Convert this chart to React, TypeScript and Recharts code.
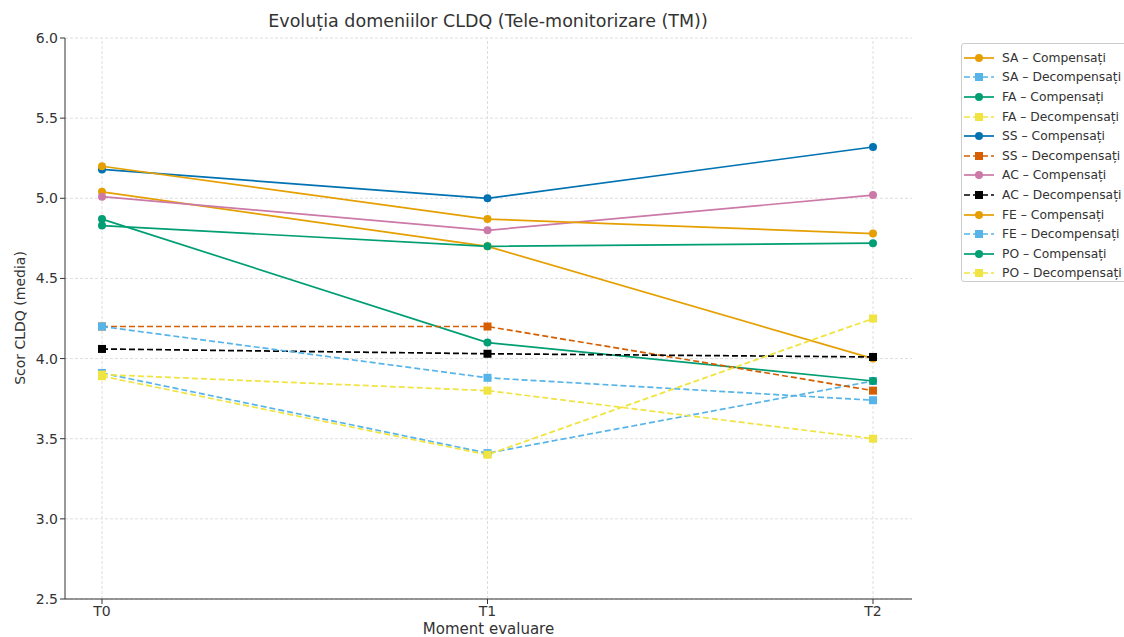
import { LineChart, Line, XAxis, YAxis, CartesianGrid, ReferenceLine } from 'recharts';

const moments = ['T0', 'T1', 'T2'];
const yTicks = [2.5, 3.0, 3.5, 4.0, 4.5, 5.0, 5.5, 6.0];

const saComp = [5.04, 4.7, 4.0];
const saDecomp = [3.91, 3.41, 3.86];
const faComp = [4.87, 4.1, 3.86];
const faDecomp = [3.9, 3.8, 3.5];
const ssComp = [5.18, 5.0, 5.32];
const ssDecomp = [4.2, 4.2, 3.8];
const acComp = [5.01, 4.8, 5.02];
const acDecomp = [4.06, 4.03, 4.01];
const feComp = [5.2, 4.87, 4.78];
const feDecomp = [4.2, 3.88, 3.74];
const poComp = [4.83, 4.7, 4.72];
const poDecomp = [3.89, 3.4, 4.25];

const series = [
  { key: 'saC', name: 'SA – Compensați', color: '#E69F00', dashed: false, values: saComp },
  { key: 'saD', name: 'SA – Decompensați', color: '#56B4E9', dashed: true, values: saDecomp },
  { key: 'faC', name: 'FA – Compensați', color: '#009E73', dashed: false, values: faComp },
  { key: 'faD', name: 'FA – Decompensați', color: '#F0E442', dashed: true, values: faDecomp },
  { key: 'ssC', name: 'SS – Compensați', color: '#0072B2', dashed: false, values: ssComp },
  { key: 'ssD', name: 'SS – Decompensați', color: '#D55E00', dashed: true, values: ssDecomp },
  { key: 'acC', name: 'AC – Compensați', color: '#CC79A7', dashed: false, values: acComp },
  { key: 'acD', name: 'AC – Decompensați', color: '#000000', dashed: true, values: acDecomp },
  { key: 'feC', name: 'FE – Compensați', color: '#E69F00', dashed: false, values: feComp },
  { key: 'feD', name: 'FE – Decompensați', color: '#56B4E9', dashed: true, values: feDecomp },
  { key: 'poC', name: 'PO – Compensați', color: '#009E73', dashed: false, values: poComp },
  { key: 'poD', name: 'PO – Decompensați', color: '#F0E442', dashed: true, values: poDecomp },
];

const data = moments.map((m, i) => {
  const row: Record<string, string | number> = { moment: m };
  series.forEach((s) => {
    row[s.key] = s.values[i];
  });
  return row;
});

const FONT = '"DejaVu Sans", sans-serif';
const GRID = '#dedede';

function SquareDot(props: any) {
  const { cx, cy, fill } = props;
  if (cx == null || cy == null) return null;
  return <rect x={cx - 4} y={cy - 4} width={8} height={8} fill={fill} />;
}

function CircleDot(props: any) {
  const { cx, cy, fill } = props;
  if (cx == null || cy == null) return null;
  return <circle cx={cx} cy={cy} r={4} fill={fill} />;
}

export default function App() {
  return (
    <div style={{ position: 'absolute', left: 0, top: 0, width: 1124, height: 637, background: '#fff', fontFamily: FONT, overflow: 'hidden' }}>
      <div style={{ position: 'absolute', left: 488, top: 11, transform: 'translateX(-50%)', fontSize: 17.5, color: '#333', whiteSpace: 'nowrap' }}>
        Evoluția domeniilor CLDQ (Tele-monitorizare (TM))
      </div>
      <div style={{ position: 'absolute', left: 20, top: 318, transform: 'translate(-50%, -50%) rotate(-90deg)', fontSize: 14, color: '#333', whiteSpace: 'nowrap' }}>
        Scor CLDQ (media)
      </div>
      <LineChart
        width={1124}
        height={637}
        data={data}
        margin={{ top: 38, right: 212, bottom: 0, left: 0 }}
      >
        <CartesianGrid stroke={GRID} strokeDasharray='3 2' vertical={false} syncWithTicks />
        {moments.map((m) => (
          <ReferenceLine key={m} x={m} stroke={GRID} strokeDasharray='3 2' zIndex={-50} />
        ))}
        <XAxis
          dataKey='moment'
          height={38}
          padding={{ left: 37, right: 39 }}
          tick={{ fill: '#333', fontSize: 14, fontFamily: FONT }}
          tickSize={5}
          axisLine={{ stroke: '#333' }}
          tickLine={{ stroke: '#333' }}
          label={{ value: 'Moment evaluare', position: 'insideBottom', offset: 3, fill: '#333', fontSize: 15, fontFamily: FONT }}
        />
        <YAxis
          width={65}
          domain={[2.5, 6.0]}
          ticks={yTicks}
          tickFormatter={(v: number) => v.toFixed(1)}
          tick={{ fill: '#333', fontSize: 14, fontFamily: FONT }}
          tickSize={5}
          axisLine={{ stroke: '#333' }}
          tickLine={{ stroke: '#333' }}
        />
        {series.map((s) => (
          <Line
            key={s.key}
            dataKey={s.key}
            name={s.name}
            stroke={s.color}
            fill={s.color}
            strokeWidth={1.7}
            strokeDasharray={s.dashed ? '6 3' : undefined}
            dot={s.dashed ? <SquareDot /> : <CircleDot />}
            activeDot={false}
            isAnimationActive={false}
          />
        ))}
      </LineChart>
      <div style={{ position: 'absolute', left: 961, top: 43, width: 180, height: 239, border: '1px solid #ccc', borderRadius: 3, background: 'rgba(255,255,255,0.8)', boxSizing: 'border-box', padding: '4px 0 0 1px' }}>
        {series.map((s) => (
          <div key={s.key} style={{ display: 'flex', alignItems: 'center', height: 19.6, fontSize: 12.3, color: '#333', whiteSpace: 'nowrap' }}>
            <svg width={32} height={12} style={{ marginRight: 7 }}>
              <line x1={1} y1={6} x2={31} y2={6} stroke={s.color} strokeWidth={1.7} strokeDasharray={s.dashed ? '6 3' : undefined} />
              {s.dashed ? <rect x={12} y={2} width={8} height={8} fill={s.color} /> : <circle cx={16} cy={6} r={4} fill={s.color} />}
            </svg>
            {s.name}
          </div>
        ))}
      </div>
    </div>
  );
}
